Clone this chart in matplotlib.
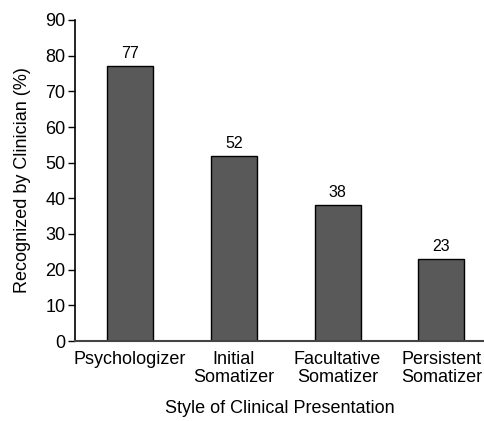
import matplotlib
matplotlib.use('Agg')
import matplotlib.pyplot as plt
import numpy as np

categories = ['Psychologizer', 'Initial\nSomatizer', 'Facultative\nSomatizer', 'Persistent\nSomatizer']
recognized = [77, 52, 38, 23]

plt.rcParams['font.family'] = ['Liberation Sans', 'DejaVu Sans']

fig = plt.figure(figsize=(4.85, 4.21), dpi=100)
ax = fig.add_axes([75 / 485, 1 - 341 / 421, 1 - 75 / 485, (341 - 20) / 421])

x = np.arange(len(categories))
bars = ax.bar(x, recognized, width=0.445, color='#595959', edgecolor='black', linewidth=1.0)
for b, v in zip(bars, recognized):
    ax.text(b.get_x() + b.get_width() / 2, v + 1.4, str(v), ha='center', va='bottom', fontsize=11.5)

ax.set_xlim(-0.53, 3.42)
ax.set_ylim(0, 90)
ax.set_yticks(range(0, 91, 10))
ax.set_xticks(x)
ax.set_xticklabels(categories, fontsize=13, linespacing=1.1)
ax.tick_params(axis='x', length=0, pad=7)
ax.tick_params(axis='y', length=5, width=1, labelsize=13, pad=2)

for s in ['top', 'right']:
    ax.spines[s].set_visible(False)
ax.spines['left'].set_linewidth(1.2)
ax.spines['bottom'].set_linewidth(1.5)
ax.spines['bottom'].set_color('#444444')

ax.set_ylabel('Recognized by Clinician (%)', fontsize=13, labelpad=10)
ax.set_xlabel('Style of Clinical Presentation', fontsize=13, labelpad=10)

fig.savefig('out.png', dpi=100)
